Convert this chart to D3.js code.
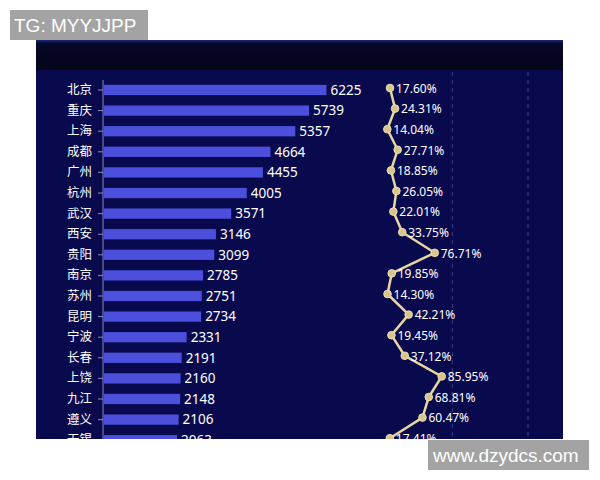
<!DOCTYPE html>
<html><head><meta charset="utf-8">
<script src="https://cdn.jsdelivr.net/npm/d3@7/dist/d3.min.js"></script>
<style>html,body{margin:0;padding:0;background:#fff;}svg{display:block;}</style>
</head><body>
<script>
const cities = ["北京","重庆","上海","成都","广州","杭州","武汉","西安","贵阳","南京","苏州","昆明","宁波","长春","上饶","九江","遵义","无锡"];
const values = [6225,5739,5357,4664,4455,4005,3571,3146,3099,2785,2751,2734,2331,2191,2160,2148,2106,2063];
const rates = [17.60,24.31,14.04,27.71,18.85,26.05,22.01,33.75,76.71,19.85,14.30,42.21,19.45,37.12,85.95,68.81,60.47,17.41];
const rateGrid = [100,200];

const W=600,H=480;
const panel={x:36,y:40,w:527,h:399};
const svg=d3.select("body").append("svg").attr("width",W).attr("height",H);
const defs=svg.append("defs");
defs.append("clipPath").attr("id","pc").append("rect")
  .attr("x",panel.x).attr("y",panel.y).attr("width",panel.w).attr("height",panel.h);
const g1=defs.append("linearGradient").attr("id","topg").attr("x1",0).attr("y1",0).attr("x2",0).attr("y2",1);
g1.append("stop").attr("offset","0%").attr("stop-color","#1a2a7a");
g1.append("stop").attr("offset","12%").attr("stop-color","#07072a");
g1.append("stop").attr("offset","100%").attr("stop-color","#040418");

svg.append("rect").attr("x",panel.x).attr("y",panel.y).attr("width",panel.w).attr("height",panel.h).attr("fill","#09094e");
svg.append("rect").attr("x",panel.x).attr("y",panel.y).attr("width",panel.w).attr("height",30).attr("fill","url(#topg)");

const cg=svg.append("g").attr("clip-path","url(#pc)");

const step=20.6;
const y=d3.scaleBand().domain(cities).range([79.7,79.7+step*cities.length]).paddingInner(0.5).paddingOuter(0.25);
const xb=d3.scaleLinear().domain([0,7000]).range([103,103+7000*0.0359]);
const xr=d3.scaleLinear().domain([0,250]).range([376.7,376.7+250*0.7565]);

// grid lines for rate axis
cg.selectAll("line.grid").data(rateGrid).join("line")
  .attr("x1",d=>xr(d)).attr("x2",d=>xr(d)).attr("y1",72).attr("y2",panel.y+panel.h)
  .attr("stroke","#3a3f8a").attr("stroke-width",1).attr("stroke-dasharray","4,4");

// y axis
const yAxis=d3.axisLeft(y).tickSize(5).tickPadding(6);
const ya=cg.append("g").attr("transform",`translate(${xb(0)},0)`).call(yAxis);
ya.select(".domain").attr("stroke","#8a8fc0").attr("d",`M0,80V${panel.y+panel.h+10}`);
ya.selectAll(".tick line").attr("stroke","#8a8fc0");
ya.selectAll(".tick text").attr("fill","#ffffff").attr("font-size",12.5)
  .attr("font-family","'Noto Sans CJK SC',sans-serif");

// bars
cg.selectAll("rect.bar").data(values).join("rect")
  .attr("x",xb(0)+1).attr("y",(d,i)=>y(cities[i]))
  .attr("width",d=>xb(d)-xb(0)-1).attr("height",y.bandwidth())
  .attr("fill","#4b4fdc");

cg.selectAll("text.val").data(values).join("text")
  .attr("x",d=>xb(d)+4).attr("y",(d,i)=>y(cities[i])+y.bandwidth()/2)
  .attr("dy","0.36em").attr("fill","#ffffff").attr("font-size",13.5)
  .attr("font-family","'Noto Sans',sans-serif").text(d=>d);

// line
const cy=(i)=>y(cities[i])+y.bandwidth()/2-2;
const line=d3.line().x(d=>xr(d)).y((d,i)=>cy(i));
cg.append("path").datum(rates).attr("d",line).attr("fill","none")
  .attr("stroke","#e8d6a0").attr("stroke-width",2.5);
cg.selectAll("circle.pt").data(rates).join("circle")
  .attr("cx",d=>xr(d)).attr("cy",(d,i)=>cy(i)).attr("r",3.8)
  .attr("fill","#d8c58a").attr("stroke","#f0e2b8").attr("stroke-width",1);
cg.selectAll("text.rate").data(rates).join("text")
  .attr("x",d=>xr(d)+6).attr("y",(d,i)=>cy(i)+0.5)
  .attr("dy","0.36em").attr("fill","#ffffff").attr("font-size",12)
  .attr("font-family","'Noto Sans',sans-serif").text(d=>d.toFixed(2)+"%");

// watermarks
svg.append("rect").attr("x",10).attr("y",10).attr("width",138).attr("height",30).attr("fill","#a3a3a3");
svg.append("text").attr("x",14).attr("y",32).attr("fill","#ffffff").attr("font-size",19)
  .attr("font-family","'Liberation Sans',Arial,sans-serif").text("TG: MYYJJPP");
svg.append("rect").attr("x",428).attr("y",440).attr("width",161).attr("height",30).attr("fill","#a3a3a3");
svg.append("text").attr("x",433).attr("y",462).attr("fill","#ffffff").attr("font-size",19)
  .attr("font-family","'Liberation Sans',Arial,sans-serif").text("www.dzydcs.com");
</script>
</body></html>
